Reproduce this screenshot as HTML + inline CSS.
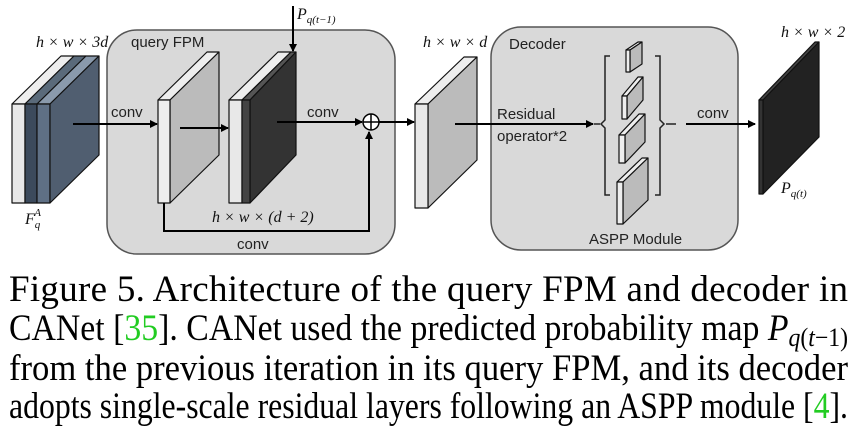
<!DOCTYPE html>
<html><head><meta charset="utf-8"><style>
html,body{margin:0;padding:0;background:#fff;}
svg{display:block;}
.s{font-family:"Liberation Sans",sans-serif;font-size:15px;fill:#222;}
.m{font-family:"Liberation Serif",serif;font-style:italic;font-size:16px;fill:#111;}
.c{font-family:"Liberation Serif",serif;font-size:37px;fill:#000;}
</style></head><body>
<svg width="858" height="428" viewBox="0 0 858 428" xmlns="http://www.w3.org/2000/svg">
<defs><marker id="a" markerWidth="8" markerHeight="8" refX="7" refY="4" orient="auto" markerUnits="userSpaceOnUse"><path d="M0,0 L8,4 L0,8 z" fill="#000"/></marker></defs>
<g stroke="#555" stroke-width="1.5">
<rect x="107" y="30" width="288" height="224" rx="30" fill="#d9d9d9"/>
<rect x="491" y="27" width="247" height="223" rx="30" fill="#d9d9d9"/>
</g>
<g stroke="#111" stroke-width="1.2" stroke-linejoin="round">
<polygon points="12,104 25,104 74,56 61,56" fill="#eee"/>
<rect x="12" y="104" width="13" height="99" fill="#e8e8e8"/>
<polygon points="25,104 37,104 86,56 74,56" fill="#5a6a7a"/>
<rect x="25" y="104" width="12" height="99" fill="#3c4a5c"/>
<polygon points="37,104 50,104 99,56 86,56" fill="#8a9aac"/>
<rect x="37" y="104" width="13" height="99" fill="#5f7085"/>
<polygon points="50,104 99,56 99,155 50,203" fill="#505e70"/>
<polygon points="158,100 170,100 219,52 207,52" fill="#eee"/>
<polygon points="170,100 219,52 219,155 170,203" fill="#bbb"/>
<rect x="158" y="100" width="12" height="103" fill="#eee"/>
<polygon points="229,100 242,100 291,52 278,52" fill="#eee"/>
<polygon points="242,100 250,100 296,52 291,52" fill="#555"/>
<polygon points="250,100 296,52 296,155 250,203" fill="#333"/>
<rect x="229" y="100" width="13" height="103" fill="#e8e8e8"/>
<rect x="242" y="100" width="8" height="103" fill="#444"/>
<polygon points="415,104 428,104 477,57 464,57" fill="#eee"/>
<polygon points="428,104 477,57 477,160 428,208" fill="#bbb"/>
<rect x="415" y="104" width="13" height="104" fill="#e8e8e8"/>
<polygon points="626,50 630,50 642,42 638,42" fill="#eee"/><polygon points="630,50 642,42 642,64 630,72" fill="#bbb"/><rect x="626" y="50" width="4" height="22" fill="#eee"/>
<polygon points="622,96 627,96 643,77 638,77" fill="#eee"/><polygon points="627,96 643,77 643,100 627,119" fill="#bbb"/><rect x="622" y="96" width="5" height="23" fill="#eee"/>
<polygon points="619,135 625,135 645,114 639,114" fill="#eee"/><polygon points="625,135 645,114 645,142 625,163" fill="#bbb"/><rect x="619" y="135" width="6" height="28" fill="#eee"/>
<polygon points="617,182 623,182 648,158 642,158" fill="#eee"/><polygon points="623,182 648,158 648,200 623,224" fill="#bbb"/><rect x="617" y="182" width="6" height="42" fill="#eee"/>
<polygon points="759,100 763,100 819,42 815,42" fill="#444"/>
<polygon points="763,100 819,42 819,137 763,194" fill="#222"/>
<rect x="759" y="100" width="4" height="94" fill="#333"/>
</g>
<g stroke="#222" stroke-width="1.5" fill="none">
<path d="M610,56 h-5 v64 l-4,4 l4,4 v67 h5"/>
<path d="M655,56 h5 v64 l4,4 l-4,4 v67 h-5"/>
<path d="M594,124 h6 M666,124 h10"/>
</g>
<g stroke="#000" stroke-width="2" fill="none">
<line x1="73" y1="124" x2="157" y2="124" marker-end="url(#a)"/>
<line x1="180" y1="128" x2="228" y2="128" marker-end="url(#a)"/>
<line x1="277" y1="122" x2="362" y2="122" marker-end="url(#a)"/>
<line x1="293" y1="6" x2="293" y2="51" marker-end="url(#a)"/>
<path d="M164,203 V231 H369 V132" marker-end="url(#a)"/>
<line x1="379" y1="122" x2="414" y2="122" marker-end="url(#a)"/>
<line x1="455" y1="124" x2="593" y2="124" marker-end="url(#a)"/>
<line x1="686" y1="124" x2="755" y2="124" marker-end="url(#a)"/>
<circle cx="371" cy="122" r="8" fill="#fff" stroke-width="1.5"/>
<path d="M363,122 h16 M371,114 v16" stroke-width="1.5"/>
</g>
<text class="s" x="131" y="47">query FPM</text>
<text class="s" x="509" y="49">Decoder</text>
<text class="s" x="111" y="117">conv</text>
<text class="s" x="307" y="117">conv</text>
<text class="s" x="237" y="249">conv</text>
<text class="s" x="497" y="119">Residual</text>
<text class="s" x="497" y="141">operator*2</text>
<text class="s" x="697" y="118">conv</text>
<text class="s" x="589" y="244">ASPP Module</text>
<text class="m" x="36" y="47">h × w × 3d</text>
<text class="m" x="423" y="47">h × w × d</text>
<text class="m" x="781" y="37">h × w × 2</text>
<text class="m" x="212" y="222">h × w × (d + 2)</text>
<text class="m" x="297" y="19">P<tspan font-size="11" dy="4">q(t−1)</tspan></text>
<text class="m" x="781" y="193">P<tspan font-size="11" dy="4">q(t)</tspan></text>
<text class="m" x="25" y="224">F<tspan font-size="11" dy="4">q</tspan><tspan font-size="11" dx="-6" dy="-12">A</tspan></text>
<text class="c" x="9" y="301" textLength="839" lengthAdjust="spacing">Figure 5. Architecture of the query FPM and decoder in</text>
<text class="c" x="9" y="340" textLength="839" lengthAdjust="spacingAndGlyphs">CANet [<tspan fill="#22cc22">35</tspan>]. CANet used the predicted probability map <tspan font-style="italic">P</tspan><tspan font-style="italic" font-size="26" dy="6">q</tspan><tspan font-size="26">(</tspan><tspan font-style="italic" font-size="26">t</tspan><tspan font-size="26">−1)</tspan></text>
<text class="c" x="9" y="380" textLength="839" lengthAdjust="spacingAndGlyphs">from the previous iteration in its query FPM, and its decoder</text>
<text class="c" x="9" y="418" textLength="839" lengthAdjust="spacingAndGlyphs">adopts single-scale residual layers following an ASPP module [<tspan fill="#22cc22">4</tspan>].</text>
</svg>
</body></html>
